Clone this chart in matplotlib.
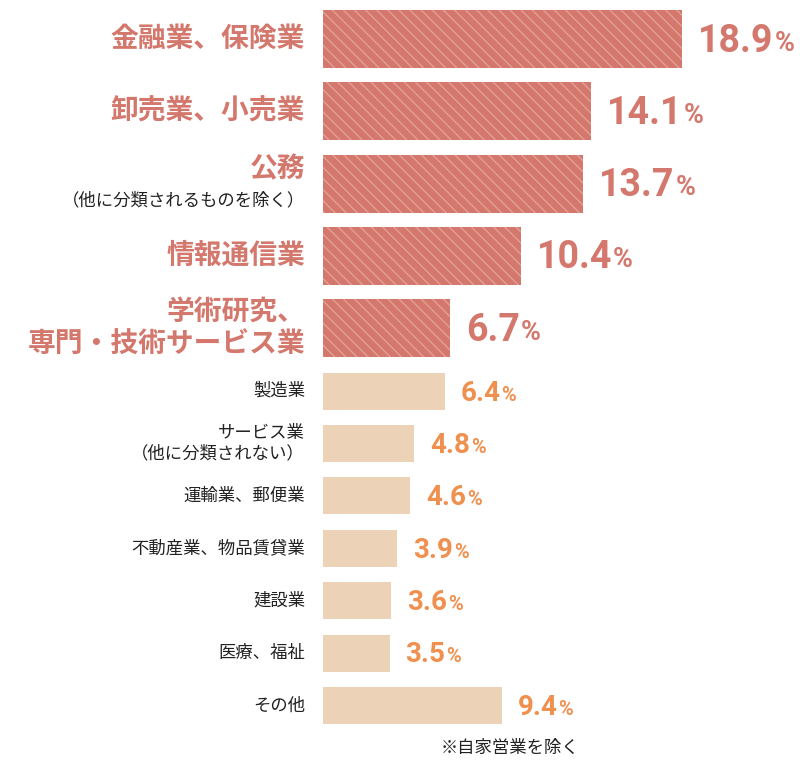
import matplotlib.pyplot as plt
from matplotlib.patches import Rectangle

categories = ["金融業、保険業", "卸売業、小売業", "公務", "情報通信業", "学術研究、\n専門・技術サービス業",
              "製造業", "サービス業\n（他に分類されない）", "運輸業、郵便業", "不動産業、物品賃貸業",
              "建設業", "医療、福祉", "その他"]
subtitles = ["", "", "（他に分類されるものを除く）", "", "", "", "", "", "", "", "", ""]
values = [18.9, 14.1, 13.7, 10.4, 6.7, 6.4, 4.8, 4.6, 3.9, 3.6, 3.5, 9.4]
top_n = 5

JP = "Noto Sans CJK JP"
NUM = ["Roboto", "DejaVu Sans"]
scale = 19.0  # px per percent
x0 = 323

fig = plt.figure(figsize=(8.1, 7.65), dpi=100)
ax = fig.add_axes([0, 0, 1, 1])
ax.set_xlim(-x0 / scale, (810 - x0) / scale)
ax.set_ylim(765, 0)
ax.axis("off")

centers = [39 + 72.3 * i for i in range(top_n)] + [391 + 52.4 * i for i in range(len(values) - top_n)]
fig.canvas.draw()
r = fig.canvas.get_renderer()
for i, (cat, sub, v, c) in enumerate(zip(categories, subtitles, values, centers)):
    big = i < top_n
    h = 58 if big else 37
    if big:
        ax.add_patch(Rectangle((0, c - h / 2), v, h, facecolor="#d4776c", edgecolor="#e3a095",
                               hatch="\\\\\\", linewidth=0))
        col, fs, vfs = "#d4776c", 20, 27
    else:
        ax.add_patch(Rectangle((0, c - h / 2), v, h, facecolor="#ecd3b8", linewidth=0))
        col, fs, vfs = "#f0904f", 12.5, 20
    lx = -18 / scale
    if sub:
        ax.text(lx, c - 14, cat, ha="right", va="center", fontsize=fs, fontweight="bold", color=col, family=JP)
        ax.text(lx, c + 17, sub, ha="right", va="center", fontsize=12.5, color="#222222", family=JP)
    else:
        ax.text(lx, c, cat, ha="right", va="center", fontsize=fs, fontweight=("bold" if big else "normal"),
                color=(col if big else "#222222"), family=JP, linespacing=1.2)
    t = ax.text(v + 16 / scale, c + 2, f"{v}", ha="left", va="center", fontsize=vfs,
                fontweight="bold", color=col, family=NUM)
    bb = t.get_window_extent(r)
    xe = ax.transData.inverted().transform((bb.x1, 0))[0]
    ax.text(xe + 1 / scale, c + 4, "%", ha="left", va="center", fontsize=vfs * 0.72,
            fontweight="bold", color=col, family=NUM)

ax.text(510 / scale - x0 / scale, 748, "※自家営業を除く", ha="center", va="center", fontsize=12.5,
        color="#222222", family=JP)
fig.savefig("out.png", dpi=100)
